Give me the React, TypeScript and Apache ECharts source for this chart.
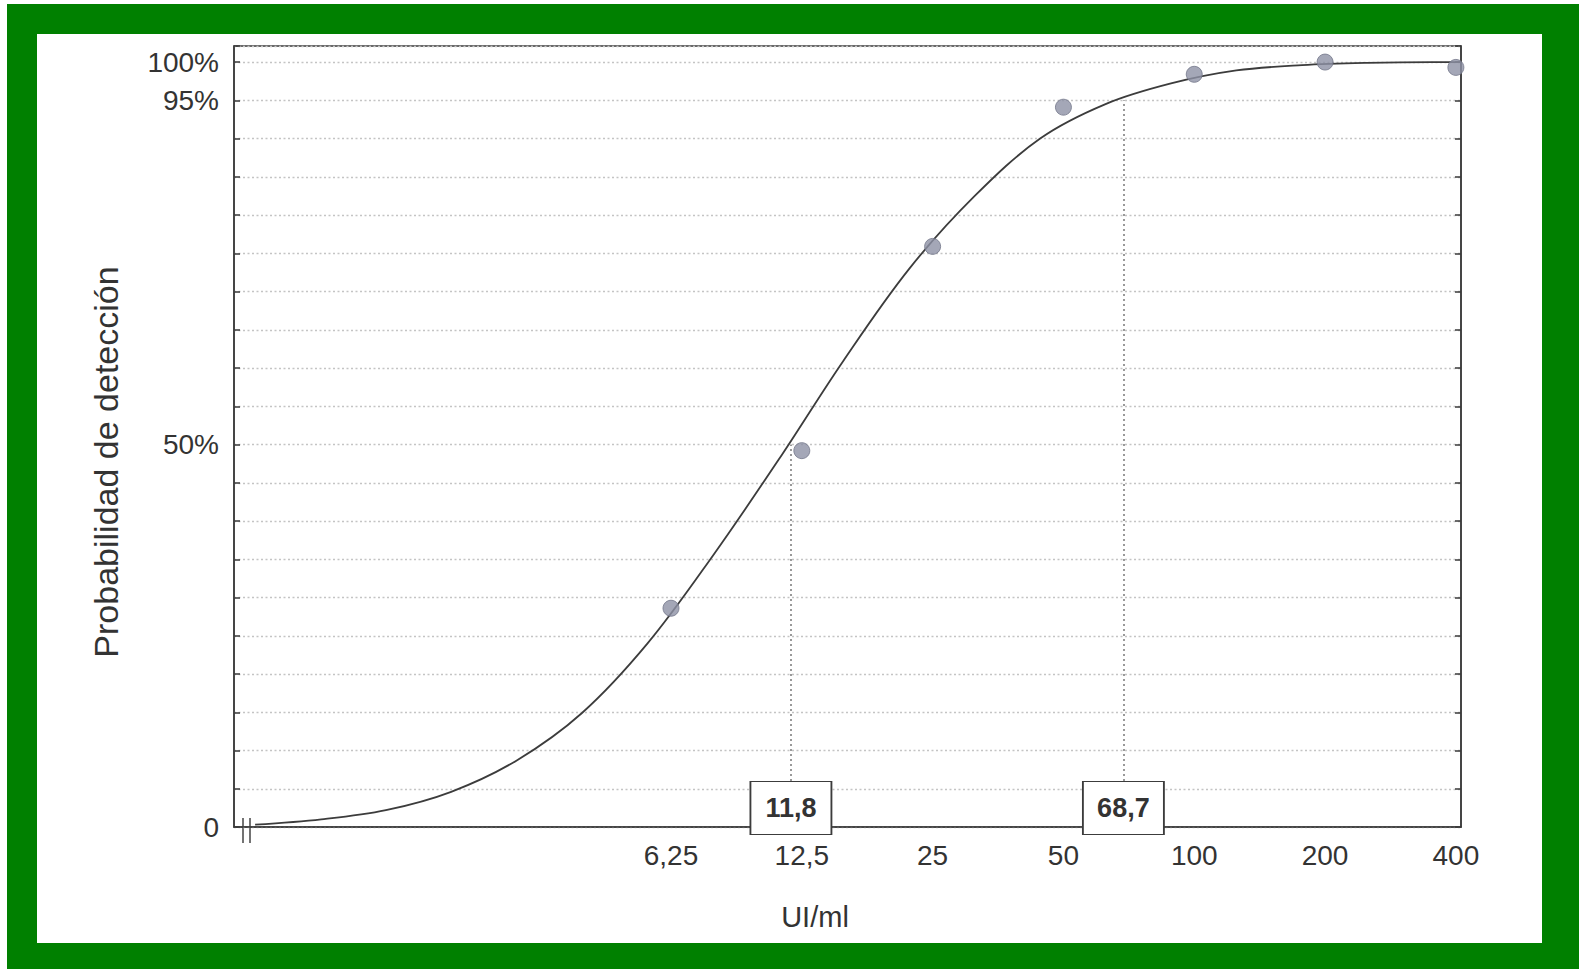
import React, { useEffect, useRef } from "react";
import * as echarts from "echarts";

// ---- Data ----
const CONCENTRATIONS = [6.25, 12.5, 25, 50, 100, 200, 400];
const X_TICK_LABELS = ["6,25", "12,5", "25", "50", "100", "200", "400"];
const DETECTION_PCT = [28.6, 49.2, 75.9, 94.1, 98.4, 100, 99.3];

// fitted curve (roughly every half doubling)
const CURVE_CONC = [0.69, 0.98, 1.38, 1.95, 2.76, 3.9, 5.52, 7.81, 11.05, 15.6, 22.1, 31.25, 44.2, 62.5, 88.4, 125, 177, 250, 354, 411];
const CURVE_PCT = [0.3, 1.0, 2.2, 4.6, 8.7, 14.9, 24.0, 35.5, 48.0, 61.0, 73.0, 82.5, 90.0, 94.5, 97.2, 98.9, 99.6, 99.9, 100, 100];

// threshold annotations (concentration, probability)
const THRESHOLD_CONC = [11.8, 68.7];
const THRESHOLD_PCT = [50, 95];
const THRESHOLD_LABELS = ["11,8", "68,7"];

const Y_TICK_VALUES = [0, 50, 95, 100];
const Y_TICK_LABELS = ["0", "50%", "95%", "100%"];

const X_MIN = 0.617;
const X_MAX = 411;
const Y_MIN = 0;
const Y_MAX = 102.1;
const Y_STEP = 5;

export default function App() {
  const ref = useRef<HTMLDivElement>(null);

  useEffect(() => {
    document.body.style.margin = "0";
    const chart = echarts.init(ref.current!, null, { renderer: "svg" });
    const lx = (c: number) => Math.log2(c);
    const font = "'Liberation Sans', Arial, Helvetica, sans-serif";
    const ink = "#3a3a3a";

    const option: any = {
      animation: false,
      grid: {
        left: 234,
        right: 118,
        top: 46,
        bottom: 142,
        show: true,
        borderColor: ink,
        borderWidth: 1.5,
        backgroundColor: "transparent",
      },
      xAxis: [
        {
          type: "value",
          min: lx(X_MIN),
          max: lx(X_MAX),
          axisLine: { show: true, onZero: false, lineStyle: { color: ink, width: 1.5 } },
          axisTick: { show: false },
          splitLine: { show: false },
          axisLabel: {
            customValues: CONCENTRATIONS.map(lx),
            formatter: (v: number) => {
              const i = CONCENTRATIONS.findIndex((c) => Math.abs(lx(c) - v) < 1e-6);
              return i >= 0 ? X_TICK_LABELS[i] : "";
            },
            fontSize: 28,
            color: "#333",
            fontFamily: font,
            margin: 14,
          },
        },
      ],
      yAxis: [
        {
          type: "value",
          min: Y_MIN,
          max: Y_MAX,
          interval: Y_STEP,
          axisLine: { show: true, onZero: false, lineStyle: { color: ink, width: 1.5 } },
          axisTick: { show: true, inside: true, length: 6, lineStyle: { color: ink, width: 1.5 } },
          splitLine: {
            show: true,
            lineStyle: { color: "#c4c4c4", width: 1.3, type: [2, 2.5] },
          },
          axisLabel: {
            customValues: Y_TICK_VALUES,
            formatter: (v: number) => {
              const i = Y_TICK_VALUES.findIndex((t) => Math.abs(t - v) < 1e-6);
              return i >= 0 ? Y_TICK_LABELS[i] : "";
            },
            fontSize: 28,
            color: "#333",
            fontFamily: font,
            margin: 15,
          },
        },
        {
          type: "value",
          position: "right",
          min: Y_MIN,
          max: Y_MAX,
          interval: Y_STEP,
          axisLine: { show: true, onZero: false, lineStyle: { color: ink, width: 1.5 } },
          axisTick: { show: true, inside: true, length: 6, lineStyle: { color: ink, width: 1.5 } },
          splitLine: { show: false },
          axisLabel: { show: false },
        },
      ],
      series: [
        {
          type: "line",
          name: "curve",
          data: CURVE_CONC.map((c, i) => [lx(c), CURVE_PCT[i]]),
          smooth: 0.35,
          showSymbol: false,
          symbol: "none",
          lineStyle: { color: "#3c3c3c", width: 1.8 },
          z: 3,
          markLine: {
            silent: true,
            symbol: "none",
            label: { show: false },
            lineStyle: { color: "#808080", type: [2, 3], width: 1.6 },
            data: THRESHOLD_CONC.map((c, i) => [
              { coord: [lx(c), 6] },
              { coord: [lx(c), THRESHOLD_PCT[i]] },
            ]),
          },
          markPoint: {
            silent: true,
            symbol: "rect",
            symbolSize: [81, 53],
            symbolOffset: [0, -19],
            itemStyle: { color: "#ffffff", borderColor: "#3c3c3c", borderWidth: 1.5 },
            label: {
              show: true,
              position: "inside",
              formatter: (p: any) => p.name,
              fontSize: 27,
              fontWeight: "bold",
              color: "#333",
              fontFamily: font,
            },
            data: THRESHOLD_CONC.map((c, i) => ({
              name: THRESHOLD_LABELS[i],
              coord: [lx(c), 0],
            })),
          },
        },
        {
          type: "scatter",
          name: "points",
          data: CONCENTRATIONS.map((c, i) => [lx(c), DETECTION_PCT[i]]),
          symbolSize: 16,
          itemStyle: { color: "#8d91a5", borderColor: "#73778a", borderWidth: 1 },
          z: 4,
        },
      ],
      graphic: [
        {
          type: "text",
          x: 815,
          y: 917,
          style: {
            text: "UI/ml",
            fontSize: 29,
            fontFamily: font,
            fill: "#333",
            align: "center",
            verticalAlign: "middle",
          },
        },
        {
          type: "text",
          x: 106,
          y: 462,
          rotation: Math.PI / 2,
          style: {
            text: "Probabilidad de detección",
            fontSize: 34,
            fontFamily: font,
            fill: "#333",
            align: "center",
            verticalAlign: "middle",
          },
        },
        {
          type: "line",
          shape: { x1: 243, y1: 818, x2: 243, y2: 843 },
          style: { stroke: "#444", lineWidth: 1.5 },
        },
        {
          type: "line",
          shape: { x1: 250, y1: 818, x2: 250, y2: 843 },
          style: { stroke: "#444", lineWidth: 1.5 },
        },
      ],
    };

    chart.setOption(option);
    return () => chart.dispose();
  }, []);

  return (
    <div style={{ position: "relative", width: 1579, height: 969, background: "#fff", overflow: "hidden" }}>
      <div style={{ position: "absolute", left: 7, top: 4, width: 1572, height: 965, background: "#008000" }} />
      <div style={{ position: "absolute", left: 37, top: 34, width: 1505, height: 909, background: "#ffffff" }} />
      <div ref={ref} style={{ position: "absolute", left: 0, top: 0, width: 1579, height: 969 }} />
    </div>
  );
}
